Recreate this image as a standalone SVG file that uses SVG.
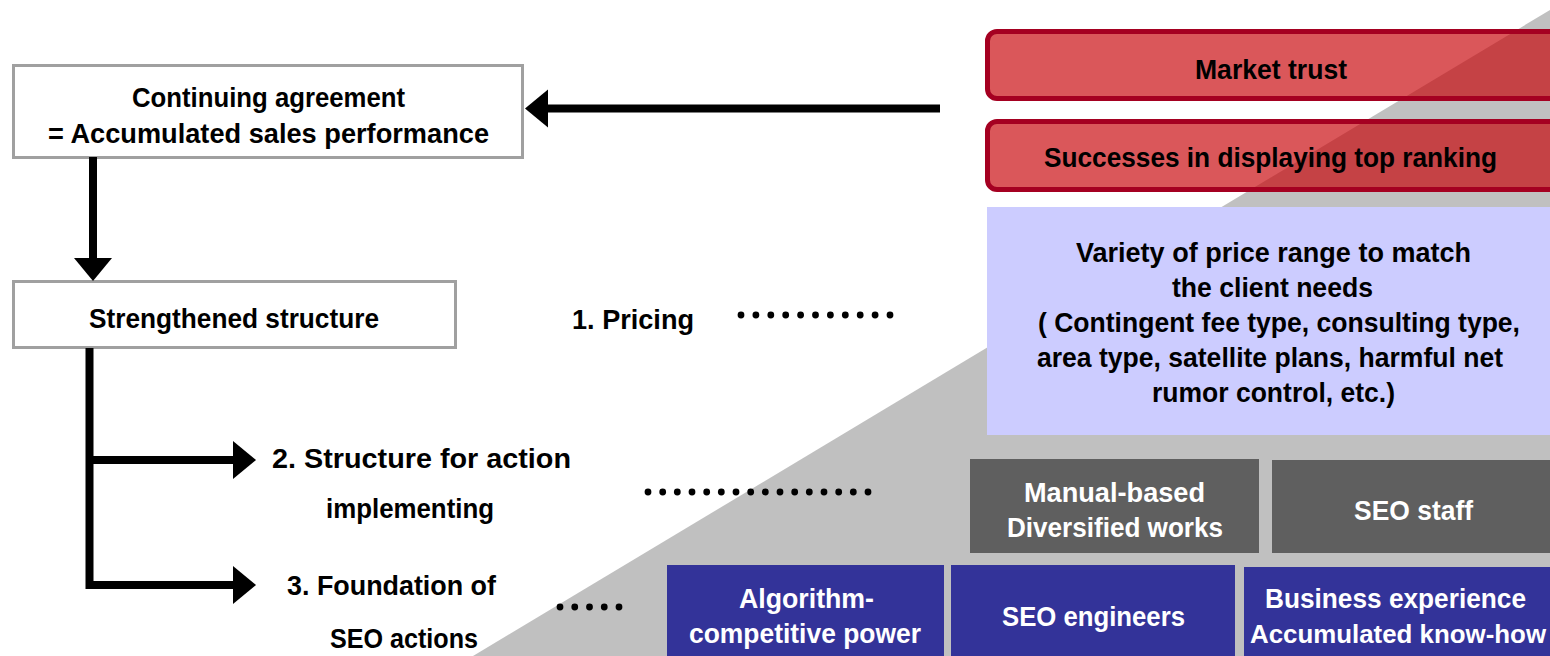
<svg xmlns="http://www.w3.org/2000/svg" width="1550" height="656" viewBox="0 0 1550 656">
<defs>
<style>
text{font-family:"Liberation Sans","Noto Sans CJK JP",sans-serif;font-weight:bold;font-size:28px;fill:#000}
.w{fill:#fff}
.box{fill:#fff;stroke:#a0a0a0;stroke-width:3}
.redfill{fill:#c80308;fill-opacity:0.667}
.redline{fill:none;stroke:#a50021;stroke-width:5}
.lav{fill:#ccccff}
.dk{fill:#5f5f5f}
.bl{fill:#333399}
.conn{fill:none;stroke:#000;stroke-width:8}
.dot{fill:#000}
</style>
<marker id="ah" markerUnits="userSpaceOnUse" markerWidth="24" markerHeight="38" refX="0" refY="19" orient="auto" overflow="visible">
<path d="M0,0 L23,19 L0,38 Z" fill="#000"/>
</marker>
</defs>
<rect x="0" y="0" width="1550" height="656" fill="#fff"/>
<polygon points="473,656 1550,10 1550,656" fill="#c0c0c0"/>

<g id="continuing">
<rect class="box" x="13.5" y="65.5" width="509" height="92"/>
<text x="132" y="107" textLength="273" lengthAdjust="spacingAndGlyphs">Continuing agreement</text>
<text x="48" y="143" textLength="441" lengthAdjust="spacingAndGlyphs">= Accumulated sales performance</text>
</g>
<g id="strengthened">
<rect class="box" x="13.5" y="281.5" width="442" height="66"/>
<text x="89" y="328" textLength="290" lengthAdjust="spacingAndGlyphs">Strengthened structure</text>
</g>
<g id="pricing-label">
<text x="572" y="329" textLength="122" lengthAdjust="spacingAndGlyphs">1. Pricing</text>
</g>
<g id="action-label">
<text x="272" y="468" textLength="299" lengthAdjust="spacingAndGlyphs">2. Structure for action</text>
<text x="326" y="518" textLength="168" lengthAdjust="spacingAndGlyphs">implementing</text>
</g>
<g id="foundation-label">
<text x="287" y="595" textLength="209" lengthAdjust="spacingAndGlyphs">3. Foundation of</text>
<text x="330" y="648" textLength="148" lengthAdjust="spacingAndGlyphs">SEO actions</text>
</g>

<g id="market-trust">
<path class="redfill" d="M1550,31.5 H997 a9.5,9.5 0 0 0 -9.5,9.5 V89 a9.5,9.5 0 0 0 9.5,9.5 H1550 Z"/>
<path class="redline" d="M1550,31.5 H997 a9.5,9.5 0 0 0 -9.5,9.5 V89 a9.5,9.5 0 0 0 9.5,9.5 H1550"/>
<text x="1195" y="79" textLength="152" lengthAdjust="spacingAndGlyphs">Market trust</text>
</g>
<g id="top-ranking">
<path class="redfill" d="M1550,121.5 H997 a9.5,9.5 0 0 0 -9.5,9.5 V180 a9.5,9.5 0 0 0 9.5,9.5 H1550 Z"/>
<path class="redline" d="M1550,121.5 H997 a9.5,9.5 0 0 0 -9.5,9.5 V180 a9.5,9.5 0 0 0 9.5,9.5 H1550"/>
<text x="1044" y="167" textLength="453" lengthAdjust="spacingAndGlyphs">Successes in displaying top ranking</text>
</g>
<g id="price-range">
<rect class="lav" x="987" y="207" width="563" height="228"/>
<text x="1076" y="262" textLength="395" lengthAdjust="spacingAndGlyphs">Variety of price range to match</text>
<text x="1172" y="297" textLength="201" lengthAdjust="spacingAndGlyphs">the client needs</text>
<text x="1038" y="332" textLength="482" lengthAdjust="spacingAndGlyphs">( Contingent fee type, consulting type,</text>
<text x="1037" y="367" textLength="466" lengthAdjust="spacingAndGlyphs">area type, satellite plans, harmful net</text>
<text x="1152" y="402" textLength="243" lengthAdjust="spacingAndGlyphs">rumor control, etc.)</text>
</g>
<g id="manual-based">
<rect class="dk" x="970" y="459" width="289" height="94"/>
<text class="w" x="1024" y="502" textLength="181" lengthAdjust="spacingAndGlyphs">Manual-based</text>
<text class="w" x="1007" y="537" textLength="216" lengthAdjust="spacingAndGlyphs">Diversified works</text>
</g>
<g id="seo-staff">
<rect class="dk" x="1272" y="460" width="278" height="93"/>
<text class="w" x="1354" y="520" textLength="119" lengthAdjust="spacingAndGlyphs">SEO staff</text>
</g>
<g id="algorithm">
<rect class="bl" x="667" y="565" width="277" height="91"/>
<text class="w" x="739" y="608" textLength="135" lengthAdjust="spacingAndGlyphs">Algorithm-</text>
<text class="w" x="689" y="643" textLength="232" lengthAdjust="spacingAndGlyphs">competitive power</text>
</g>
<g id="seo-engineers">
<rect class="bl" x="951" y="565" width="284" height="91"/>
<text class="w" x="1002" y="626" textLength="183" lengthAdjust="spacingAndGlyphs">SEO engineers</text>
</g>
<g id="business-experience">
<rect class="bl" x="1244" y="567" width="306" height="89"/>
<text class="w" x="1265" y="608" textLength="261" lengthAdjust="spacingAndGlyphs">Business experience</text>
<text class="w" x="1250" y="643" style="font-size:26px" textLength="296" lengthAdjust="spacingAndGlyphs">Accumulated know-how</text>
</g>

<g id="connectors">
<path class="conn" d="M940,108.5 H548" marker-end="url(#ah)"/>
<path class="conn" d="M93,157 V258" marker-end="url(#ah)"/>
<path class="conn" d="M89.5,348 V589 M85.5,585 H233" marker-end="url(#ah)"/>
<path class="conn" d="M89.5,460 H233" marker-end="url(#ah)"/>
<g id="dots1" class="dot">
<circle cx="741" cy="315" r="3.4"/><circle cx="755.9" cy="315" r="3.4"/><circle cx="770.8" cy="315" r="3.4"/><circle cx="785.7" cy="315" r="3.4"/><circle cx="800.6" cy="315" r="3.4"/><circle cx="815.5" cy="315" r="3.4"/><circle cx="830.4" cy="315" r="3.4"/><circle cx="845.3" cy="315" r="3.4"/><circle cx="860.2" cy="315" r="3.4"/><circle cx="875.1" cy="315" r="3.4"/><circle cx="890" cy="315" r="3.4"/>
</g>
<g id="dots2" class="dot">
<circle cx="648" cy="492" r="3.4"/><circle cx="662.7" cy="492" r="3.4"/><circle cx="677.3" cy="492" r="3.4"/><circle cx="692" cy="492" r="3.4"/><circle cx="706.7" cy="492" r="3.4"/><circle cx="721.3" cy="492" r="3.4"/><circle cx="736" cy="492" r="3.4"/><circle cx="750.7" cy="492" r="3.4"/><circle cx="765.3" cy="492" r="3.4"/><circle cx="780" cy="492" r="3.4"/><circle cx="794.7" cy="492" r="3.4"/><circle cx="809.3" cy="492" r="3.4"/><circle cx="824" cy="492" r="3.4"/><circle cx="838.7" cy="492" r="3.4"/><circle cx="853.3" cy="492" r="3.4"/><circle cx="868" cy="492" r="3.4"/>
</g>
<g id="dots3" class="dot">
<circle cx="560" cy="607" r="3.4"/><circle cx="574.75" cy="607" r="3.4"/><circle cx="589.5" cy="607" r="3.4"/><circle cx="604.25" cy="607" r="3.4"/><circle cx="619" cy="607" r="3.4"/>
</g>
</g>
</svg>
